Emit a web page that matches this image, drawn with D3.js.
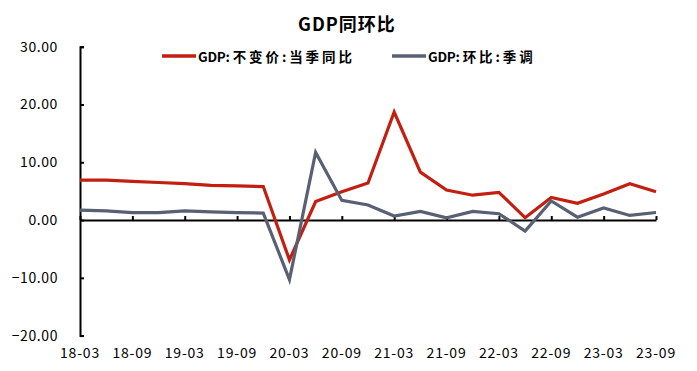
<!DOCTYPE html>
<html>
<head>
<meta charset="utf-8">
<script src="https://cdn.jsdelivr.net/npm/d3@7"></script>
<style>
  body { margin: 0; background: #fff; }
  svg { display: block; font-family: "Noto Sans CJK SC", sans-serif; }
</style>
</head>
<body>
<svg id="chart"></svg>
<script>
const quarters = ["18-03","18-06","18-09","18-12","19-03","19-06","19-09","19-12",
                  "20-03","20-06","20-09","20-12","21-03","21-06","21-09","21-12",
                  "22-03","22-06","22-09","22-12","23-03","23-06","23-09"];
const yoy = [6.9, 6.9, 6.7, 6.5, 6.3, 6.0, 5.9, 5.8,
             -6.9, 3.2, 4.9, 6.4, 18.7, 8.3, 5.2, 4.3,
             4.8, 0.4, 3.9, 2.9, 4.5, 6.3, 4.9];
const qoq = [1.7, 1.6, 1.3, 1.3, 1.6, 1.4, 1.3, 1.2,
             -10.3, 11.7, 3.4, 2.6, 0.7, 1.5, 0.4, 1.5,
             1.1, -1.9, 3.3, 0.5, 2.1, 0.8, 1.3];
const yTicks = [-20, -10, 0, 10, 20, 30];
const seriesNames = ["GDP:不变价:当季同比", "GDP:环比:季调"];
const colors = ["#C21F10", "#596074"];

const width = 697, height = 371;
const svg = d3.select("#chart").attr("width", width).attr("height", height);

const x = d3.scalePoint().domain(quarters).range([80, 656]);
const y = d3.scaleLinear().domain([-20, 30]).range([335.6, 46.7]);

// title
svg.append("text")
   .attr("x", 347).attr("y", 31)
   .attr("text-anchor", "middle")
   .attr("font-size", 18).attr("font-weight", "bold")
   .attr("letter-spacing", 1)
   .text("GDP同环比");

// y axis
const yAxis = svg.append("g")
   .attr("transform", "translate(80,0)")
   .call(d3.axisRight(y).tickValues(yTicks).tickSize(4).tickFormat(""));
yAxis.select(".domain").attr("stroke", "#000").attr("stroke-width", 2);
yAxis.selectAll(".tick line").attr("stroke", "#000").attr("stroke-width", 2);

svg.append("g").selectAll("text")
   .data(yTicks).enter().append("text")
   .attr("x", 58).attr("y", d => y(d) + 5)
   .attr("text-anchor", "end")
   .attr("font-size", 14)
   .attr("letter-spacing", 0.6)
   .text(d => d3.format(".2f")(d));

// x axis along zero
const xLabels = quarters.filter((q, i) => i % 2 === 0);
const xAxis = svg.append("g")
   .attr("transform", `translate(0,${y(0)})`)
   .call(d3.axisTop(x).tickValues(xLabels).tickSize(4).tickSizeOuter(0).tickFormat(""));
xAxis.select(".domain").attr("stroke", "#000").attr("stroke-width", 2);
xAxis.selectAll(".tick line").attr("stroke", "#000").attr("stroke-width", 2);

svg.append("g").selectAll("text")
   .data(xLabels).enter().append("text")
   .attr("x", d => x(d)).attr("y", 358)
   .attr("text-anchor", "middle")
   .attr("font-size", 14)
   .attr("letter-spacing", 0.8)
   .text(d => d);

// lines
const line = d3.line()
   .x((d, i) => x(quarters[i]))
   .y(d => y(d));

[yoy, qoq].forEach(function(s, k) {
    svg.append("path")
       .datum(s)
       .attr("d", line)
       .attr("fill", "none")
       .attr("stroke", colors[k])
       .attr("stroke-width", 3.2)
       .attr("stroke-linejoin", "miter");
});

// legend: "GDP" kept tight, the rest spread out
const legendX = [162, 392];
seriesNames.forEach(function(name, k) {
    svg.append("line")
       .attr("x1", legendX[k]).attr("x2", legendX[k] + 34)
       .attr("y1", 56).attr("y2", 56)
       .attr("stroke", colors[k]).attr("stroke-width", 3.5);
    const t = svg.append("text")
       .attr("x", legendX[k] + 36).attr("y", 61.5)
       .attr("font-size", 13.5).attr("font-weight", "bold");
    t.append("tspan").attr("letter-spacing", -0.3).text(name.slice(0, 3));
    t.append("tspan").attr("letter-spacing", 2.9).text(name.slice(3));
});
</script>
</body>
</html>
